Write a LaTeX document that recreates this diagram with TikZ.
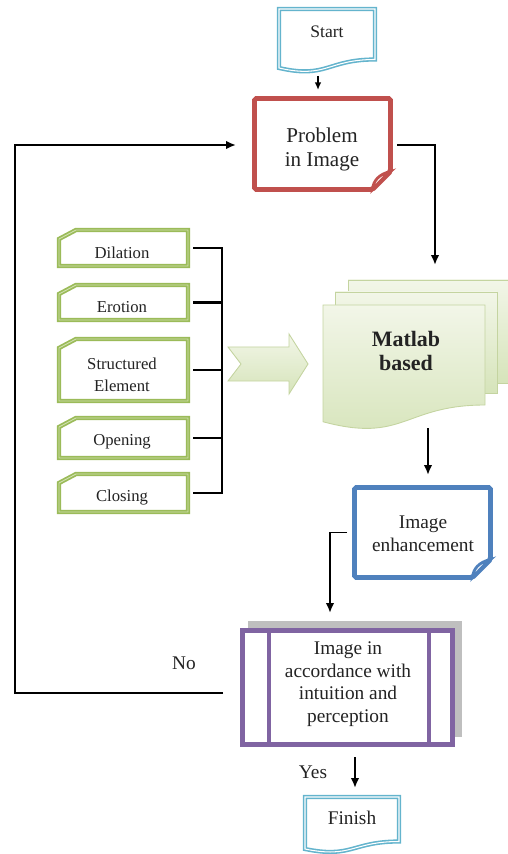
\documentclass[tikz,border=0pt]{standalone}
\usepackage{fontspec}
\setmainfont{Liberation Serif}
\usetikzlibrary{arrows.meta,calc,fit}
\definecolor{cred}{RGB}{192,80,77}
\definecolor{cblue}{RGB}{79,129,189}
\definecolor{cpur}{RGB}{128,100,162}
\definecolor{cgreen}{RGB}{155,187,89}
\definecolor{cgreenl}{RGB}{210,226,178}
\definecolor{ccyan}{RGB}{100,180,205}
\definecolor{cgray}{RGB}{191,191,191}
\definecolor{mtop}{RGB}{242,246,232}
\definecolor{mbot}{RGB}{214,228,186}
\definecolor{medge}{RGB}{196,212,160}
\definecolor{ctext}{RGB}{35,35,35}
\newcommand\gbox[4]{\draw[gsty] (#1,#2+9) -- (#1+17,#2) -- (#3,#2) -- (#3,#4) -- (#1,#4) -- cycle;}
\begin{document}
\begin{tikzpicture}[x=0.02cm,y=-0.02cm,
  conn/.style={line width=1.1pt, black},
  arr/.style={conn, -{Latex[length=2mm,width=1.7mm]}},
  sarr/.style={conn, line width=0.9pt, -{Latex[length=1.5mm,width=1.3mm]}},
  hold/.style={inner sep=0pt, outer sep=0pt},
  lbl/.style={text=ctext, align=center, inner sep=0pt},
  gsty/.style={draw=cgreen, line width=1pt, double=cgreenl, double distance=0.5pt, fill=white},
  docsty/.style={draw=ccyan, line width=0.9pt, double=white, double distance=0.6pt, fill=white},
  mpage/.style={top color=mtop, bottom color=mbot, draw=medge, line width=0.5pt},
  thick5/.style={line width=2.8pt, fill=white, rounded corners=1pt}
]
\useasboundingbox (0,0) rectangle (507,854);

% ---------- Start ----------
\path[docsty] (279,9) -- (375,9) -- (375,59.5) .. controls (327,59.5) and (327,79) .. (279,68) -- cycle;
\node[hold, fit={(277,7) (377,70)}] (start) {};
\node[lbl, font=\fontsize{10}{12}\selectfont] (startt) at (327,32) {Start};

% ---------- Problem in Image ----------
\draw[cred, thick5] (254.5,98.5) -- (390.5,98.5) -- (390.5,171.5) -- (372.5,189.5) -- (254.5,189.5) -- cycle;
\draw[cred, line width=1.6pt, fill=white] (372.5,189.5) .. controls (373,181) and (379,174) .. (390.5,171.5) .. controls (383,178) .. cycle;
\node[hold, fit={(252,96) (393,192)}] (prob) {};
\node[lbl, font=\fontsize{12}{14}\selectfont] (probt) at (322,149.5) {Problem\\in Image};

% ---------- green boxes ----------
\gbox{59}{230}{188}{266}
\gbox{59}{285}{188}{320}
\gbox{59}{339}{188}{401}
\gbox{59}{418}{188}{458}
\gbox{59}{474}{188}{512}
\node[hold, fit={(57,228) (190,268)}] (dil) {};
\node[hold, fit={(57,283) (190,322)}] (ero) {};
\node[hold, fit={(57,337) (190,403)}] (str) {};
\node[hold, fit={(57,416) (190,460)}] (ope) {};
\node[hold, fit={(57,472) (190,514)}] (clo) {};
\node[lbl, font=\fontsize{9.5}{12.5}\selectfont] (dilt) at (122,252.5) {Dilation};
\node[lbl, font=\fontsize{9.5}{12.5}\selectfont] (erot) at (122,307.5) {Erotion};
\node[lbl, font=\fontsize{9.5}{12.5}\selectfont] (strt) at (122,375) {Structured\\Element};
\node[lbl, font=\fontsize{9.5}{12.5}\selectfont] (opet) at (122,442) {Opening};
\node[lbl, font=\fontsize{9.5}{12.5}\selectfont] (clot) at (122,498) {Closing};

% bracket
\coordinate (brk) at (222,0);
\foreach \b in {dil,ero,str,ope,clo}
  \draw[conn, line width=1.3pt, shorten <=0.06cm] (\b.east) -- (\b.east -| brk);
\draw[conn, line width=1.3pt, line cap=rect] (dil.east -| brk) -- (clo.east -| brk);

% chevron arrow
\path[mpage] (228,347) -- (289,347) -- (289,334) -- (308,364) -- (289,394) -- (289,381) -- (228,381) -- (241,364) -- cycle;
\node[hold, fit={(228,334) (308,394)}] (chev) {};

% ---------- Matlab based (multidocument) ----------
\path[mpage] (348,280) rectangle (510,383);
\path[mpage] (335,292) rectangle (497,393);
\path[mpage] (323,305) -- (485,305) -- (485,405) .. controls (404,405) and (404,443.5) .. (323,421.75) -- cycle;
\node[hold, fit={(323,305) (485,422)}] (mat) {};
\node[lbl, font=\bfseries\fontsize{12.5}{14}\selectfont] (matt) at (406,351) {Matlab\\based};

% ---------- Image enhancement ----------
\draw[cblue, thick5] (354.5,487.5) -- (490.5,487.5) -- (490.5,559.5) -- (472.5,577.5) -- (354.5,577.5) -- cycle;
\draw[cblue, line width=1.6pt, fill=white] (472.5,577.5) .. controls (473,569) and (479,562) .. (490.5,559.5) .. controls (483,566) .. cycle;
\node[hold, fit={(352,485) (493,580)}] (enh) {};
\node[lbl, font=\fontsize{11}{13}\selectfont] (enht) at (423,534) {Image\\enhancement};

% ---------- decision (predefined process) ----------
\fill[cgray] (248,621) rectangle (462,737);
\draw[cpur, line width=2.8pt, fill=white] (242.5,630.5) rectangle (452.5,744.5);
\draw[cpur, line width=2.8pt] (269,630.5) -- (269,744.5) (429,630.5) -- (429,744.5);
\node[hold, fit={(240,628) (455,747)}] (dec) {};
\node[lbl, font=\fontsize{11}{12.9}\selectfont] (dect) at (348,684) {Image in\\accordance with\\intuition and\\perception};

% ---------- Finish ----------
\path[docsty] (305,797) -- (399,797) -- (399,841.5) .. controls (352,841.5) and (352,858.7) .. (305,849) -- cycle;
\node[hold, fit={(303,795) (401,851)}] (fin) {};
\node[lbl, font=\fontsize{11}{13}\selectfont] (fint) at (352,818) {Finish};

% labels
\node[lbl, font=\fontsize{11}{13}\selectfont] (nolbl) at (184,663) {No};
\node[lbl, font=\fontsize{11}{13}\selectfont] (yeslbl) at (313,772) {Yes};

% ---------- connectors ----------
\coordinate (loopc) at (15,145);
\draw[sarr] ($(start.south)+(-9,6)$) -- ($(prob.north)+(-4.5,-6)$);
\draw[arr] ($(prob.east)+(4,1)$) -| ($(mat.north)+(31,-40)$);
\draw[arr] ($(dec.west)+(-17,5.5)$) -| (loopc) -- ($(prob.west)+(-16,1)$);
\draw[arr] ($(mat.south)+(24,6)$) -- ($(enh.north)+(5.5,-10)$);
\draw[arr] ($(enh.west)+(-5,0)$) -| ($(dec.north)+(-17.5,-15)$);
\draw[arr] ($(dec.south)+(7.5,10)$) -- ($(fin.north)+(3,-7)$);
\end{tikzpicture}
\end{document}
